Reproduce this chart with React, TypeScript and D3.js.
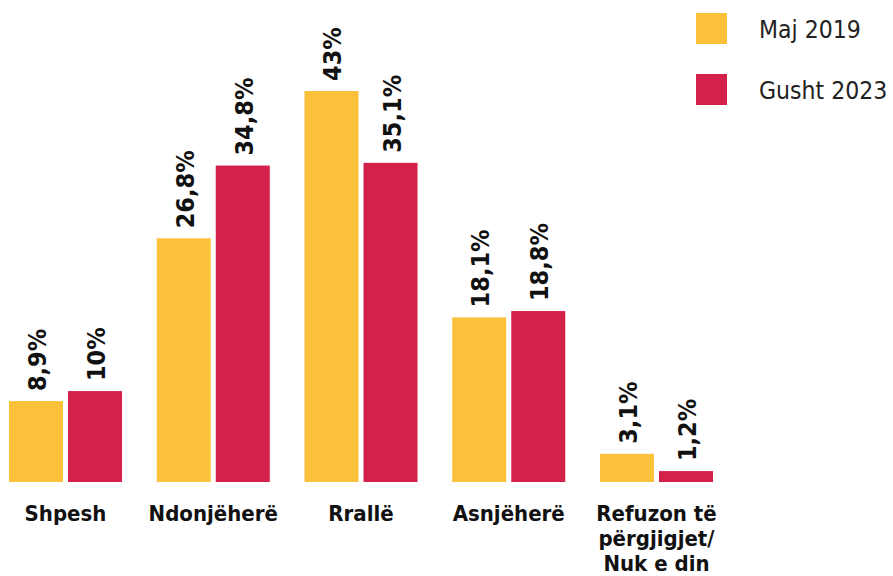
import { useEffect, useRef } from 'react';
import * as d3 from 'd3';

// data
const categories = ['Shpesh', 'Ndonjëherë', 'Rrallë', 'Asnjëherë', 'Refuzon të\npërgjigjet/\nNuk e din'];
const seriesNames = ['Maj 2019', 'Gusht 2023'];
const maj2019 = [8.9, 26.8, 43, 18.1, 3.1];
const gusht2023 = [10, 34.8, 35.1, 18.8, 1.2];
const colors = ['#FBC13B', '#D3214B'];

const FONT = '"DejaVu Sans Condensed", "Liberation Sans Narrow", "DejaVu Sans", sans-serif';

const fmt = (v: number) => String(v).replace('.', ',') + '%';

const App = () => {
    const svgRef = useRef<SVGSVGElement>(null);

    useEffect(() => {
        const svg = d3.select(svgRef.current);
        svg.selectAll('*').remove();

        const x0 = d3.scaleBand().domain(categories).range([9, 713]).paddingInner(0.235).paddingOuter(0);
        const x1 = d3.scaleBand().domain(seriesNames).range([0, x0.bandwidth()]).paddingInner(0.085);
        const y = d3.scaleLinear().domain([0, 43]).range([482, 91]);

        const rows = categories.map((c, i) => ({ cat: c, vals: [maj2019[i], gusht2023[i]] }));

        const groups = svg.selectAll('.grp')
            .data(rows)
            .enter()
            .append('g')
            .attr('class', 'grp')
            .attr('transform', d => `translate(${x0(d.cat)},0)`);

        // bars
        groups.selectAll('rect')
            .data(d => d.vals.map((v, j) => ({ v, s: seriesNames[j], j })))
            .enter()
            .append('rect')
            .attr('x', d => x1(d.s))
            .attr('y', d => y(d.v))
            .attr('width', x1.bandwidth())
            .attr('height', d => y(0) - y(d.v))
            .attr('fill', d => colors[d.j]);

        // value labels, rotated
        groups.selectAll('text.val')
            .data(d => d.vals.map((v, j) => ({ v, s: seriesNames[j] })))
            .enter()
            .append('text')
            .attr('class', 'val')
            .attr('transform', d => `translate(${x1(d.s) + x1.bandwidth() / 2 + 10},${y(d.v) - 10}) rotate(-90)`)
            .style('font-family', FONT)
            .style('font-size', '25px')
            .style('font-weight', 'bold')
            .style('fill', '#111')
            .text(d => fmt(d.v));

        // category labels
        const catLabels = svg.append('g');
        categories.forEach(c => {
            const t = catLabels.append('text')
                .attr('x', x0(c) + x0.bandwidth() / 2)
                .attr('y', 521)
                .attr('text-anchor', 'middle')
                .style('font-family', FONT)
                .style('font-size', '22px')
                .style('font-weight', 'bold')
                .style('fill', '#111');
            c.split('\n').forEach((line, k) => {
                t.append('tspan')
                    .attr('x', x0(c) + x0.bandwidth() / 2)
                    .attr('dy', k === 0 ? 0 : 25)
                    .text(line);
            });
        });

        // legend
        const legend = svg.append('g').attr('transform', 'translate(696,13)');
        seriesNames.forEach((s, i) => {
            const item = legend.append('g').attr('transform', `translate(0,${i * 61})`);
            item.append('rect').attr('width', 31).attr('height', 31).attr('fill', colors[i]);
            item.append('text')
                .attr('x', 63)
                .attr('y', 25)
                .style('font-family', FONT)
                .style('font-size', '24.5px')
                .style('fill', '#222')
                .text(s);
        });
    }, []);

    return (
        <svg ref={svgRef} width={893} height={576} style={{ position: 'absolute', left: 0, top: 0, background: '#fff' }}></svg>
    );
};

export default App;
